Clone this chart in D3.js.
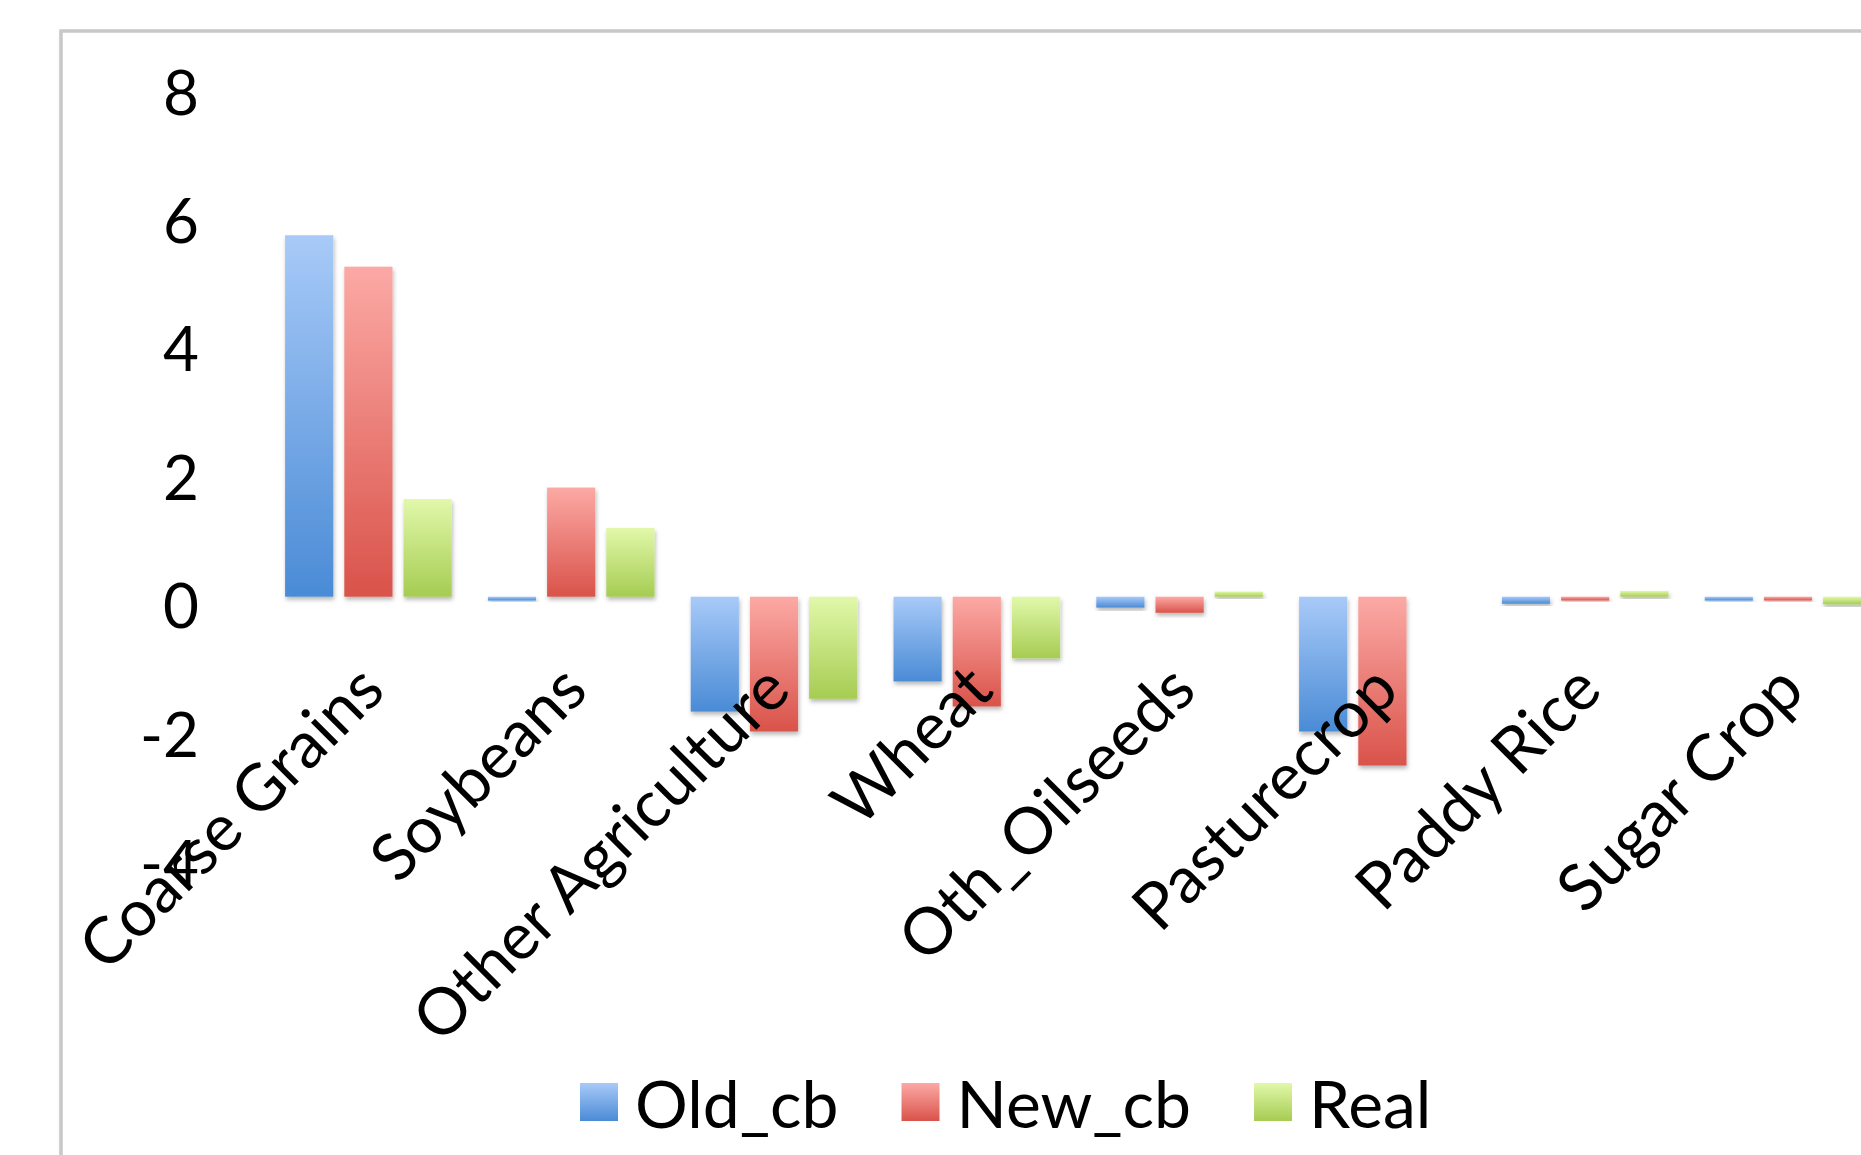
<!DOCTYPE html>
<html>
<head>
<meta charset="utf-8">
<script src="https://cdn.jsdelivr.net/npm/d3@7/dist/d3.min.js"></script>
<style>
  html, body { margin: 0; padding: 0; background: #ffffff; overflow: hidden; }
  svg { display: block; }
  text { font-family: Lato, "Open Sans", "Noto Sans", sans-serif; fill: #000; }
</style>
</head>
<body>
<svg id="chart" width="1861" height="1155"></svg>
<script>
// Crop categories and the change reported for each scenario
const categories = ["Coarse Grains", "Soybeans", "Other Agriculture", "Wheat",
                    "Oth_Oilseeds", "Pasturecrop", "Paddy Rice", "Sugar Crop"];
const seriesNames = ["Old_cb", "New_cb", "Real"];
const oldCb = [5.63, -0.06, -1.79, -1.32, -0.17, -2.10, -0.11, -0.06];
const newCb = [5.14,  1.70, -2.10, -1.71, -0.25, -2.63, -0.06, -0.06];
const real  = [1.52,  1.07, -1.59, -0.96,  0.08,  0.00,  0.09, -0.12];
const yTicks = [-4, -2, 0, 2, 4, 6, 8];

const seriesValues = [oldCb, newCb, real];
const palette = {
  Old_cb: ["#a8caf8", "#4a8bd6"],
  New_cb: ["#fca9a5", "#d9534a"],
  Real:   ["#e1f8aa", "#a6cc52"]
};

const svg = d3.select("#chart");
const defs = svg.append("defs");

// vertical gradient per series, light at the top and deeper at the bottom
seriesNames.forEach(s => {
  const g = defs.append("linearGradient")
    .attr("id", "grad-" + s)
    .attr("x1", 0).attr("y1", 0).attr("x2", 0).attr("y2", 1);
  g.append("stop").attr("offset", "0%").attr("stop-color", palette[s][0]);
  g.append("stop").attr("offset", "100%").attr("stop-color", palette[s][1]);
});

const shadow = defs.append("filter").attr("id", "barShadow")
  .attr("x", "-20%").attr("y", "-20%").attr("width", "150%").attr("height", "150%");
shadow.append("feDropShadow")
  .attr("dx", 1).attr("dy", 3).attr("stdDeviation", 2.2)
  .attr("flood-color", "#000").attr("flood-opacity", 0.28);

const frameShadow = defs.append("filter").attr("id", "frameShadow")
  .attr("x", "-5%").attr("y", "-5%").attr("width", "110%").attr("height", "110%");
frameShadow.append("feDropShadow")
  .attr("dx", 1).attr("dy", 2).attr("stdDeviation", 1.5)
  .attr("flood-color", "#000").attr("flood-opacity", 0.15);

// chart frame (runs off the right and bottom edges)
svg.append("rect")
  .attr("x", 61).attr("y", 31)
  .attr("width", 2000).attr("height", 1400)
  .attr("fill", "#ffffff")
  .attr("stroke", "#c8c8c8")
  .attr("stroke-width", 3.5)
  .attr("filter", "url(#frameShadow)");

// scales
const plotLeft = 267;
const bandStep = 202.8;
const x0 = d3.scaleBand()
  .domain(categories)
  .range([plotLeft, plotLeft + bandStep * categories.length])
  .paddingInner(0).paddingOuter(0);

const x1 = d3.scaleBand()
  .domain(seriesNames)
  .range([18.1, bandStep - 18.1])
  .paddingInner(0.186).paddingOuter(0);

const y = d3.scaleLinear().domain([-4, 8]).range([853.5, 83.1]);

// value axis labels only, no line or ticks
const yAxis = svg.append("g")
  .attr("transform", "translate(199,0)")
  .call(d3.axisLeft(y).tickValues(yTicks).tickSize(0).tickPadding(0)
        .tickFormat(d => String(d)));
yAxis.select(".domain").remove();
yAxis.selectAll("text")
  .attr("dy", "0.5em")
  .style("font-size", "62px")
  .style("font-family", "Lato, 'Open Sans', sans-serif")
  .attr("fill", "#000");

// bars
const groups = svg.append("g").selectAll("g")
  .data(categories)
  .join("g")
  .attr("transform", d => `translate(${x0(d)},0)`);

groups.selectAll("rect")
  .data((c, i) => seriesNames.map((s, k) => ({ series: s, value: seriesValues[k][i] })))
  .join("rect")
  .attr("x", d => x1(d.series))
  .attr("width", x1.bandwidth())
  .attr("y", d => y(Math.max(0, d.value)))
  .attr("height", d => Math.abs(y(d.value) - y(0)))
  .attr("fill", d => `url(#grad-${d.series})`)
  .attr("filter", "url(#barShadow)");

// zero line of the category axis
svg.append("line")
  .attr("x1", plotLeft).attr("x2", 1861)
  .attr("y1", y(0)).attr("y2", y(0))
  .attr("stroke", "#8a8a8a")
  .attr("stroke-width", 2.5)
  .attr("filter", "url(#frameShadow)");

// rotated category labels
svg.append("g").selectAll("text")
  .data(categories)
  .join("text")
  .attr("text-anchor", "end")
  .attr("transform", d => `translate(${x0(d) + x0.bandwidth() / 2 + 19},693) rotate(-45)`)
  .style("font-size", "65px")
  .text(d => d);

// legend
const legend = svg.append("g").attr("transform", "translate(580,1083)");
let cursor = 0;
seriesNames.forEach(s => {
  const item = legend.append("g").attr("transform", `translate(${cursor},0)`);
  item.append("rect")
    .attr("width", 38).attr("height", 38)
    .attr("fill", `url(#grad-${s})`);
  const t = item.append("text")
    .attr("x", 55).attr("y", 45)
    .style("font-size", "66px")
    .text(s);
  cursor += 55 + t.node().getComputedTextLength() + 63;
});
</script>
</body>
</html>
